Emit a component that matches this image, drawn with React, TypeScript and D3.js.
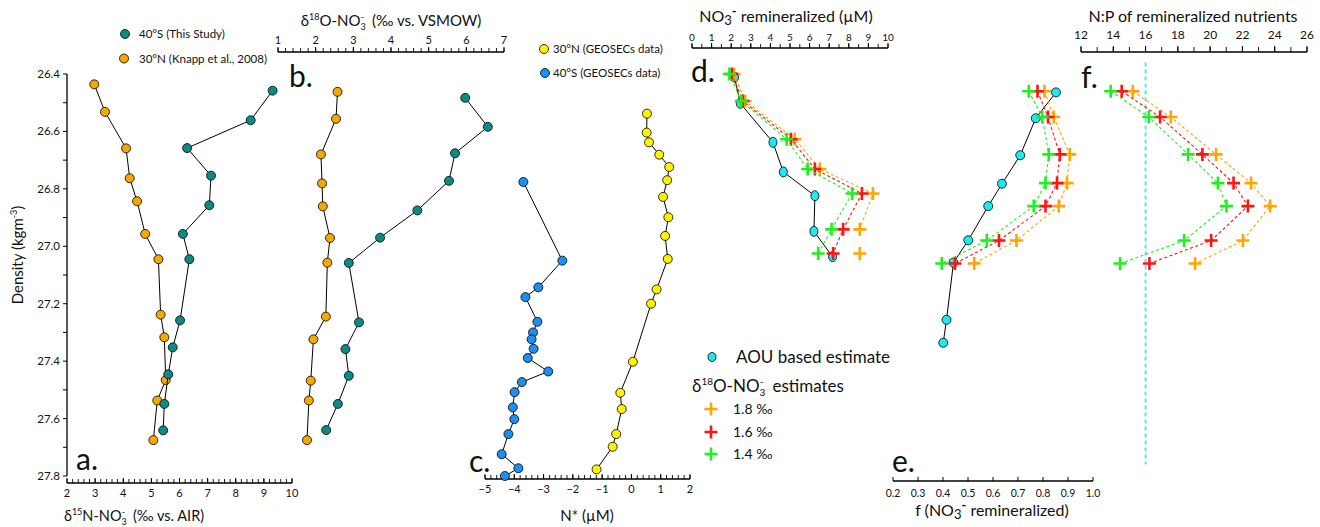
import React from 'react';
import * as d3 from 'd3';

const FONT = 'Lato, "Open Sans", sans-serif';

// colours
const TEAL = '#0d8a84';
const ORANGE = '#f6a800';
const YELLOW = '#fff200';
const BLUE = '#1c8ff0';
const CYAN = '#1ee8f2';
const C18 = '#ffa500';
const C16 = '#ff1414';
const C14 = '#1ef01e';

// density axis
const densMajor = [26.4, 26.6, 26.8, 27.0, 27.2, 27.4, 27.6, 27.8];

// panel a: d15N
const a40SDens = [26.458, 26.561, 26.658, 26.754, 26.857, 26.957, 27.045, 27.258, 27.352, 27.446, 27.549, 27.641];
const a40SD15N = [9.31, 8.53, 6.27, 7.12, 7.06, 6.12, 6.35, 6.02, 5.76, 5.6, 5.46, 5.42];
const a30NDens = [26.436, 26.532, 26.659, 26.763, 26.843, 26.957, 27.045, 27.238, 27.317, 27.466, 27.537, 27.675];
const a30ND15N = [2.97, 3.35, 4.1, 4.23, 4.49, 4.78, 5.25, 5.33, 5.46, 5.51, 5.21, 5.07];

// panel b: d18O
const b40SDens = [26.483, 26.584, 26.676, 26.772, 26.875, 26.97, 27.058, 27.265, 27.358, 27.451, 27.549, 27.64];
const b40SD18O = [5.97, 6.57, 5.7, 5.54, 4.7, 3.71, 2.88, 3.15, 2.79, 2.88, 2.59, 2.28];
const b30NDens = [26.462, 26.556, 26.68, 26.781, 26.861, 26.971, 27.057, 27.245, 27.324, 27.468, 27.537, 27.675];
const b30ND18O = [2.58, 2.54, 2.14, 2.17, 2.19, 2.38, 2.31, 2.27, 1.94, 1.87, 1.82, 1.77];

// panel c: N*
const c40SDens = [26.776, 27.05, 27.143, 27.177, 27.263, 27.3, 27.324, 27.357, 27.389, 27.436, 27.473, 27.508, 27.561, 27.602, 27.654, 27.724, 27.773, 27.8];
const c40SNstar = [-3.69, -2.36, -3.18, -3.62, -3.21, -3.36, -3.41, -3.34, -3.54, -2.84, -3.74, -3.99, -4.05, -4.0, -4.2, -4.43, -3.86, -4.32];
const c30NDens = [26.538, 26.604, 26.638, 26.681, 26.724, 26.77, 26.828, 26.899, 26.964, 27.044, 27.15, 27.2, 27.402, 27.51, 27.567, 27.654, 27.698, 27.777];
const c30NNstar = [0.53, 0.52, 0.6, 0.95, 1.29, 1.22, 1.08, 1.26, 1.15, 1.24, 0.86, 0.67, 0.05, -0.38, -0.33, -0.52, -0.64, -1.19];

// panel d: NO3 remineralized
const dAouDens = [26.411, 26.502, 26.638, 26.741, 26.824, 26.948, 27.036];
const dAouNO3 = [2.17, 2.46, 4.13, 4.66, 6.27, 6.22, 7.17];
const dEstDens = [26.4, 26.494, 26.627, 26.731, 26.816, 26.941, 27.025];
const dEst18 = [2.15, 2.71, 5.25, 6.52, 9.23, 8.56, 8.56];
const dEst16 = [2.03, 2.59, 5.05, 6.27, 8.67, 7.71, 7.2];
const dEst14 = [1.91, 2.51, 4.83, 5.9, 8.17, 7.12, 6.44];

// panel e: f (NO3 remineralized)
const eAouDens = [26.464, 26.554, 26.683, 26.782, 26.86, 26.979, 27.057, 27.256, 27.336];
const eAouF = [0.852, 0.771, 0.709, 0.636, 0.581, 0.501, 0.442, 0.414, 0.401];
const efEstDens = [26.46, 26.55, 26.68, 26.78, 26.86, 26.98, 27.06];
const eF18 = [0.806, 0.843, 0.907, 0.896, 0.863, 0.694, 0.525];
const eF16 = [0.778, 0.82, 0.867, 0.856, 0.81, 0.624, 0.448];
const eF14 = [0.743, 0.797, 0.823, 0.81, 0.763, 0.575, 0.395];

// panel f: N:P
const fNP18 = [15.21, 17.56, 20.37, 22.53, 23.72, 22.03, 19.07];
const fNP16 = [14.52, 16.9, 19.52, 21.45, 22.34, 20.06, 16.24];
const fNP14 = [13.84, 16.2, 18.64, 20.48, 21.01, 18.39, 14.42];
const redfield = 16;
const redfieldDens = [26.36, 27.76];

const yScale = d3.scaleLinear().domain([26.4, 27.8]).range([74, 476]);
const xA = d3.scaleLinear().domain([2, 10]).range([67, 292]);
const xB = d3.scaleLinear().domain([1, 7]).range([278, 504]);
const xC = d3.scaleLinear().domain([-5, 2]).range([485, 690]);
const xD = d3.scaleLinear().domain([0, 10]).range([692, 888]);
const xE = d3.scaleLinear().domain([0.2, 1.0]).range([893, 1093]);
const xF = d3.scaleLinear().domain([12, 26]).range([1081, 1307]);

const steps = (a: number, b: number, s: number) =>
  d3.range(Math.round((b - a) / s) + 1).map((i) => +(a + i * s).toFixed(3));

const minus = (v: number) => (v < 0 ? '\u2212' + Math.abs(v) : String(v));

type Lin = d3.ScaleLinear<number, number>;

function HAxis(props: {
  scale: Lin; y: number; major: number[]; minor: number[]; top?: boolean;
  fmt?: (v: number) => string; fontSize?: number; labelGap?: number; tick?: number;
}) {
  const { scale, y, major, minor, top, fmt = String, fontSize = 11, labelGap = 4, tick = 5 } = props;
  const [r0, r1] = scale.range();
  return (
    <g>
      <line x1={r0} x2={r1} y1={y} y2={y} stroke="#000" strokeWidth={1.3} />
      {minor.map((v) => (
        <line key={'m' + v} x1={scale(v)} x2={scale(v)} y1={y} y2={y - tick + 1} stroke="#000" strokeWidth={0.9} />
      ))}
      {major.map((v) => (
        <line key={'M' + v} x1={scale(v)} x2={scale(v)} y1={y} y2={y - tick} stroke="#000" strokeWidth={1} />
      ))}
      {major.map((v) => (
        <text key={'t' + v} x={scale(v)} y={top ? y - tick - labelGap : y + fontSize + labelGap}
          textAnchor="middle" fontSize={fontSize}>{fmt(v)}</text>
      ))}
    </g>
  );
}

function Profile({ xs, ys, x, fill, r = 4.5 }: { xs: number[]; ys: number[]; x: Lin; fill: string; r?: number }) {
  const pts = xs.map((v, i) => [x(v), yScale(ys[i])] as [number, number]);
  const line = d3.line();
  return (
    <g>
      <path d={line(pts) || ''} fill="none" stroke="#000" strokeWidth={1} />
      {pts.map(([px, py], i) => (
        <circle key={i} cx={px} cy={py} r={r} fill={fill} stroke="#000" strokeWidth={0.8} />
      ))}
    </g>
  );
}

function Cyan({ xs, ys, x, rx, ry }: { xs: number[]; ys: number[]; x: Lin; rx: number; ry: number }) {
  const pts = xs.map((v, i) => [x(v), yScale(ys[i])] as [number, number]);
  return (
    <g>
      <path d={d3.line()(pts) || ''} fill="none" stroke="#000" strokeWidth={1} />
      {pts.map(([px, py], i) => (
        <ellipse key={i} cx={px} cy={py} rx={rx} ry={ry} fill={CYAN} stroke="#000" strokeWidth={0.8} />
      ))}
    </g>
  );
}

const crossPath = (cx: number, cy: number, s: number) => `M${cx - s},${cy}H${cx + s}M${cx},${cy - s}V${cy + s}`;

function Crosses({ xs, ys, x, color, linked }: { xs: number[]; ys: number[]; x: Lin; color: string; linked?: number }) {
  const pts = xs.map((v, i) => [x(v), yScale(ys[i])] as [number, number]);
  const linePts = pts.slice(0, linked ?? pts.length);
  return (
    <g>
      <path d={d3.line()(linePts) || ''} fill="none" stroke={color} strokeWidth={1.1} strokeDasharray="3,2.5" />
      {pts.map(([px, py], i) => (
        <path key={i} d={crossPath(px, py, 6.5)} stroke={color} strokeWidth={2.6} fill="none" />
      ))}
    </g>
  );
}

// "NO3-" with the 3 under the minus sign
function NO3({ sub, rest }: { sub: number; rest: string }) {
  return (
    <>
      <tspan>NO</tspan>
      <tspan fontSize={sub} dy={4}>3</tspan>
      <tspan fontSize={sub} dx={-sub * 0.55} dy={-(sub + 1)}>-</tspan>
      <tspan dx={sub * 0.45} dy={sub - 3}>{'\u00a0' + rest}</tspan>
    </>
  );
}

export default function App() {
  const densMinor = steps(26.4, 27.8, 0.1);
  return (
    <svg width={1320} height={527} style={{ position: 'absolute', left: 0, top: 0 }} fontFamily={FONT} fill="#111">
      <rect width={1320} height={527} fill="#fff" />

      {/* density axis */}
      <line x1={67} x2={67} y1={yScale(26.4)} y2={yScale(27.8)} stroke="#000" strokeWidth={1.3} />
      {densMinor.map((v) => (
        <line key={v} x1={63} x2={67} y1={yScale(v)} y2={yScale(v)} stroke="#000" strokeWidth={1} />
      ))}
      {densMajor.map((v) => (
        <text key={v} x={60} y={yScale(v) + 4} textAnchor="end" fontSize={11.5}>{v.toFixed(1)}</text>
      ))}
      <text transform="translate(23,255) rotate(-90)" textAnchor="middle" fontSize={15}>
        Density (kgm<tspan fontSize={9} dy={-6}>-3</tspan><tspan dy={6}>)</tspan>
      </text>

      {/* panel a */}
      <HAxis scale={xA} y={483} major={steps(2, 10, 1)} minor={steps(2, 10, 0.2)} labelGap={3} />
      <text x={134} y={521} textAnchor="middle" fontSize={14.5}>
        δ<tspan fontSize={9} dy={-6}>15</tspan><tspan dy={6}>N-</tspan>
        <NO3 sub={9} rest="(‰ vs. AIR)" />
      </text>
      <Profile xs={a30ND15N} ys={a30NDens} x={xA} fill={ORANGE} />
      <Profile xs={a40SD15N} ys={a40SDens} x={xA} fill={TEAL} />
      <circle cx={125} cy={34} r={4.5} fill={TEAL} stroke="#000" strokeWidth={0.8} />
      <text x={139} y={38} fontSize={11.5}>40°S (This Study)</text>
      <circle cx={124} cy={58.5} r={4.5} fill={ORANGE} stroke="#000" strokeWidth={0.8} />
      <text x={139} y={62.5} fontSize={11.5}>30°N (Knapp et al., 2008)</text>
      <text x={76} y={470} fontSize={30}>a.</text>

      {/* panel b */}
      <HAxis scale={xB} y={52} top major={steps(1, 7, 1)} minor={steps(1, 7, 0.2)} labelGap={3} />
      <text x={391} y={26} textAnchor="middle" fontSize={15}>
        δ<tspan fontSize={9} dy={-6}>18</tspan><tspan dy={6}>O-</tspan>
        <NO3 sub={9} rest="(‰ vs. VSMOW)" />
      </text>
      <Profile xs={b30ND18O} ys={b30NDens} x={xB} fill={ORANGE} />
      <Profile xs={b40SD18O} ys={b40SDens} x={xB} fill={TEAL} />
      <text x={289} y={87} fontSize={30}>b.</text>

      {/* panel c */}
      <HAxis scale={xC} y={479} major={steps(-5, 2, 1)} minor={steps(-5, 2, 0.2)} fmt={minus} labelGap={3} />
      <text x={587} y={521} textAnchor="middle" fontSize={15}>N* (µM)</text>
      <Profile xs={c30NNstar} ys={c30NDens} x={xC} fill={YELLOW} />
      <Profile xs={c40SNstar} ys={c40SDens} x={xC} fill={BLUE} />
      <circle cx={544} cy={49} r={4.5} fill={YELLOW} stroke="#000" strokeWidth={0.8} />
      <text x={553} y={53} fontSize={11.5}>30°N (GEOSECs data)</text>
      <circle cx={545} cy={73} r={4.5} fill={BLUE} stroke="#000" strokeWidth={0.8} />
      <text x={553} y={77} fontSize={11.5}>40°S (GEOSECs data)</text>
      <text x={469} y={472} fontSize={30}>c.</text>

      {/* panel d */}
      <HAxis scale={xD} y={48} top major={steps(0, 10, 1)} minor={steps(0, 10, 0.5)} fontSize={10} labelGap={2} />
      <text x={786} y={22} textAnchor="middle" fontSize={16}>
        NO<tspan fontSize={13} dy={3}>3</tspan><tspan fontWeight="bold" fontSize={13} dy={-9}>-</tspan>
        <tspan dy={6}>{'\u00a0remineralized (µM)'}</tspan>
      </text>
      <Cyan xs={dAouNO3} ys={dAouDens} x={xD} rx={4} ry={5} />
      <Crosses xs={dEst18} ys={dEstDens} x={xD} color={C18} linked={6} />
      <Crosses xs={dEst16} ys={dEstDens} x={xD} color={C16} />
      <Crosses xs={dEst14} ys={dEstDens} x={xD} color={C14} />
      <text x={691} y={82} fontSize={30}>d.</text>

      {/* legend d/e */}
      <ellipse cx={712} cy={357} rx={4} ry={4.5} fill={CYAN} stroke="#000" strokeWidth={0.8} />
      <text x={736} y={363} fontSize={17}>AOU based estimate</text>
      <text x={692} y={392} fontSize={17}>
        δ<tspan fontSize={10} dy={-7}>18</tspan><tspan dy={7}>O-</tspan>
        <NO3 sub={10} rest="estimates" />
      </text>
      {[
        { c: C18, t: '1.8 ‰', y: 409 },
        { c: C16, t: '1.6 ‰', y: 432 },
        { c: C14, t: '1.4 ‰', y: 454 },
      ].map((l) => (
        <g key={l.t}>
          <path d={crossPath(711, l.y, 6.5)} stroke={l.c} strokeWidth={2.6} fill="none" />
          <text x={733} y={l.y + 5} fontSize={14}>{l.t}</text>
        </g>
      ))}

      {/* panel e */}
      <HAxis scale={xE} y={481} major={steps(0.2, 1.0, 0.1)} minor={[]} fmt={(v) => v.toFixed(1)} fontSize={10.5} labelGap={5} tick={4} />
      <text x={992} y={516} textAnchor="middle" fontSize={16}>
        f (NO<tspan fontSize={13} dy={3}>3</tspan><tspan fontWeight="bold" fontSize={13} dy={-9}>-</tspan>
        <tspan dy={6}>{'\u00a0remineralized)'}</tspan>
      </text>
      <Cyan xs={eAouF} ys={eAouDens} x={xE} rx={4.5} ry={4.5} />
      <Crosses xs={eF18} ys={efEstDens} x={xE} color={C18} />
      <Crosses xs={eF16} ys={efEstDens} x={xE} color={C16} />
      <Crosses xs={eF14} ys={efEstDens} x={xE} color={C14} />
      <text x={892} y={472} fontSize={30}>e.</text>

      {/* panel f */}
      <HAxis scale={xF} y={52} top major={steps(12, 26, 2)} minor={steps(12, 26, 1)} fontSize={12} labelGap={7} tick={6} />
      <text x={1193} y={22} textAnchor="middle" fontSize={16}>N:P of remineralized nutrients</text>
      <line x1={xF(redfield)} x2={xF(redfield)} y1={yScale(redfieldDens[0])} y2={yScale(redfieldDens[1])}
        stroke="#5fe3f0" strokeWidth={2} strokeDasharray="4,3" />
      <Crosses xs={fNP18} ys={efEstDens} x={xF} color={C18} />
      <Crosses xs={fNP16} ys={efEstDens} x={xF} color={C16} />
      <Crosses xs={fNP14} ys={efEstDens} x={xF} color={C14} />
      <text x={1081} y={88} fontSize={30}>f.</text>
    </svg>
  );
}
